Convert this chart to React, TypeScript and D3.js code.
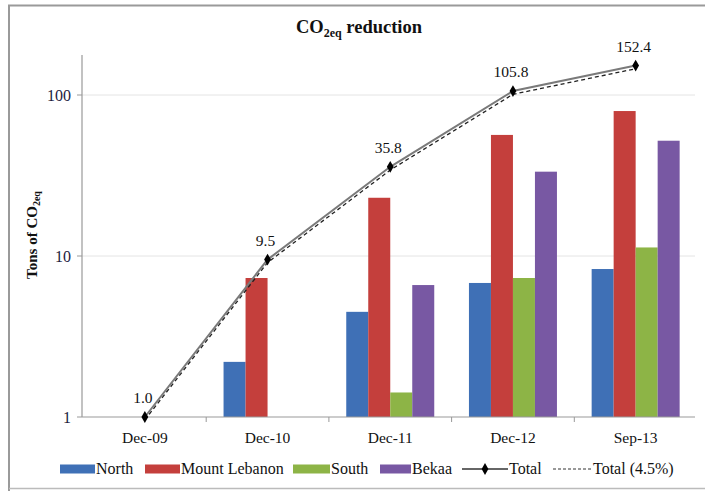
import React from "react";
import * as d3 from "d3";

const categories = ["Dec-09", "Dec-10", "Dec-11", "Dec-12", "Sep-13"];
const seriesNames = ["North", "Mount Lebanon", "South", "Bekaa"];
const seriesColors = ["#3f70b6", "#c43f3c", "#8db446", "#7858a3"];
const north = [null, 2.2, 4.5, 6.8, 8.3];
const mountLebanon = [null, 7.3, 23.0, 56.5, 79.5];
const south = [null, null, 1.42, 7.3, 11.3];
const bekaa = [null, null, 6.6, 33.4, 52.0];
const total = [1.0, 9.5, 35.8, 105.8, 152.4];
const total45 = [0.96, 9.1, 34.2, 101.0, 145.6];
const yTicks = [1, 10, 100];

const W = 705;
const H = 491;
const FONT = "Liberation Serif";
const fs = (size: number, bold = false) => ({
  fontFamily: FONT,
  fontSize: size,
  fontWeight: bold ? 700 : 400,
});

export default function App() {
  const seriesValues = [north, mountLebanon, south, bekaa];
  const x = d3.scaleBand<string>().domain(categories).range([83.5, 697]).padding(0);
  const sub = d3.scaleBand<string>().domain(seriesNames).range([-44, 44]).padding(0);
  const y = d3.scaleLog().domain([1, 100]).range([417, 95]);
  const cx = (c: string) => (x(c) as number) + x.bandwidth() / 2;

  const line = d3
    .line<number>()
    .x((_, i) => cx(categories[i]))
    .y((d) => y(d));

  const diamond = d3.symbol().type(d3.symbolDiamond).size(40)();

  const legendY = 469;
  const legendItems = [
    { type: "box", color: seriesColors[0], x0: 60, x1: 95, label: "North" },
    { type: "box", color: seriesColors[1], x0: 145, x1: 180, label: "Mount Lebanon" },
    { type: "box", color: seriesColors[2], x0: 293, x1: 330, label: "South" },
    { type: "box", color: seriesColors[3], x0: 380, x1: 411, label: "Bekaa" },
    { type: "line", color: "#777", x0: 462, x1: 508, label: "Total" },
    { type: "dash", color: "#222", x0: 553, x1: 592, label: "Total (4.5%)" },
  ];

  return (
    <svg width={W} height={H} style={{ display: "block", position: "absolute", left: 0, top: 0 }}>
      <rect x={0} y={0} width={W} height={H} fill="#fff" />
      {/* frame */}
      <path d={`M9,${H} V5.5 H${W}`} fill="none" stroke="#9a9a9a" strokeWidth={2} />
      <line x1={9} x2={W} y1={488.5} y2={488.5} stroke="#bbb" strokeWidth={1.5} />

      {/* title */}
      <text x={359} y={33} textAnchor="middle" style={fs(18.5, true)} fill="#111">
        CO<tspan style={{ fontSize: 12 }} dy={4}>2eq</tspan>
        <tspan dy={-4}> reduction</tspan>
      </text>

      {/* gridlines */}
      {yTicks.slice(1).map((t) => (
        <line key={t} x1={82} x2={695} y1={y(t)} y2={y(t)} stroke="#e4e4e4" strokeWidth={1} />
      ))}

      {/* bars */}
      {categories.map((c, ci) =>
        seriesNames.map((s, si) => {
          const v = seriesValues[si][ci];
          if (v == null) return null;
          const bx = cx(c) + (sub(s) as number);
          return (
            <rect key={c + s} x={bx} y={y(v)} width={sub.bandwidth()} height={y(1) - y(v)} fill={seriesColors[si]} />
          );
        })
      )}

      {/* axes */}
      <line x1={82} x2={82} y1={55} y2={417} stroke="#999" strokeWidth={1.2} />
      <line x1={82} x2={695} y1={417} y2={417} stroke="#999" strokeWidth={1.2} />
      {yTicks.map((t) => (
        <g key={t}>
          <line x1={77} x2={82} y1={y(t)} y2={y(t)} stroke="#999" />
          <text x={71} y={y(t) + 5.5} textAnchor="end" style={fs(16)} fill="#1c1c40">
            {t}
          </text>
        </g>
      ))}
      {categories.map((c, i) => (
        <g key={c}>
          {i > 0 && <line x1={x(c) as number} x2={x(c) as number} y1={417} y2={422} stroke="#999" />}
          <text x={cx(c)} y={443} textAnchor="middle" style={fs(15.5)} fill="#111">
            {c}
          </text>
        </g>
      ))}

      {/* y label */}
      <text transform="translate(37,235) rotate(-90)" textAnchor="middle" style={fs(15, true)} fill="#111">
        Tons of CO<tspan style={{ fontSize: 10 }} dy={3}>2eq</tspan>
      </text>

      {/* lines */}
      <path d={line(total) as string} fill="none" stroke="#7a7a7a" strokeWidth={2} />
      <path d={line(total45) as string} fill="none" stroke="#222" strokeWidth={1.3} strokeDasharray="4,3" />
      {total.map((v, i) => (
        <g key={i}>
          <path d={diamond as string} transform={`translate(${cx(categories[i])},${y(v)})`} fill="#000" />
          <text x={cx(categories[i]) - 2} y={y(v) - 14} textAnchor="middle" style={fs(15.5)} fill="#111">
            {v.toFixed(1)}
          </text>
        </g>
      ))}

      {/* legend */}
      {legendItems.map((it) => (
        <g key={it.label}>
          {it.type === "box" && (
            <rect x={it.x0} y={legendY - 4.5} width={it.x1 - it.x0} height={9} fill={it.color} />
          )}
          {it.type === "line" && (
            <g>
              <line x1={it.x0} x2={it.x1} y1={legendY} y2={legendY} stroke="#333" strokeWidth={1.5} />
              <path d={diamond as string} transform={`translate(${(it.x0 + it.x1) / 2},${legendY})`} fill="#000" />
            </g>
          )}
          {it.type === "dash" && (
            <line x1={it.x0} x2={it.x1} y1={legendY} y2={legendY} stroke="#333" strokeWidth={1} strokeDasharray="3,2" />
          )}
          <text x={it.x1 + 1} y={legendY + 5} style={fs(16)} fill="#111">
            {it.label}
          </text>
        </g>
      ))}
    </svg>
  );
}
